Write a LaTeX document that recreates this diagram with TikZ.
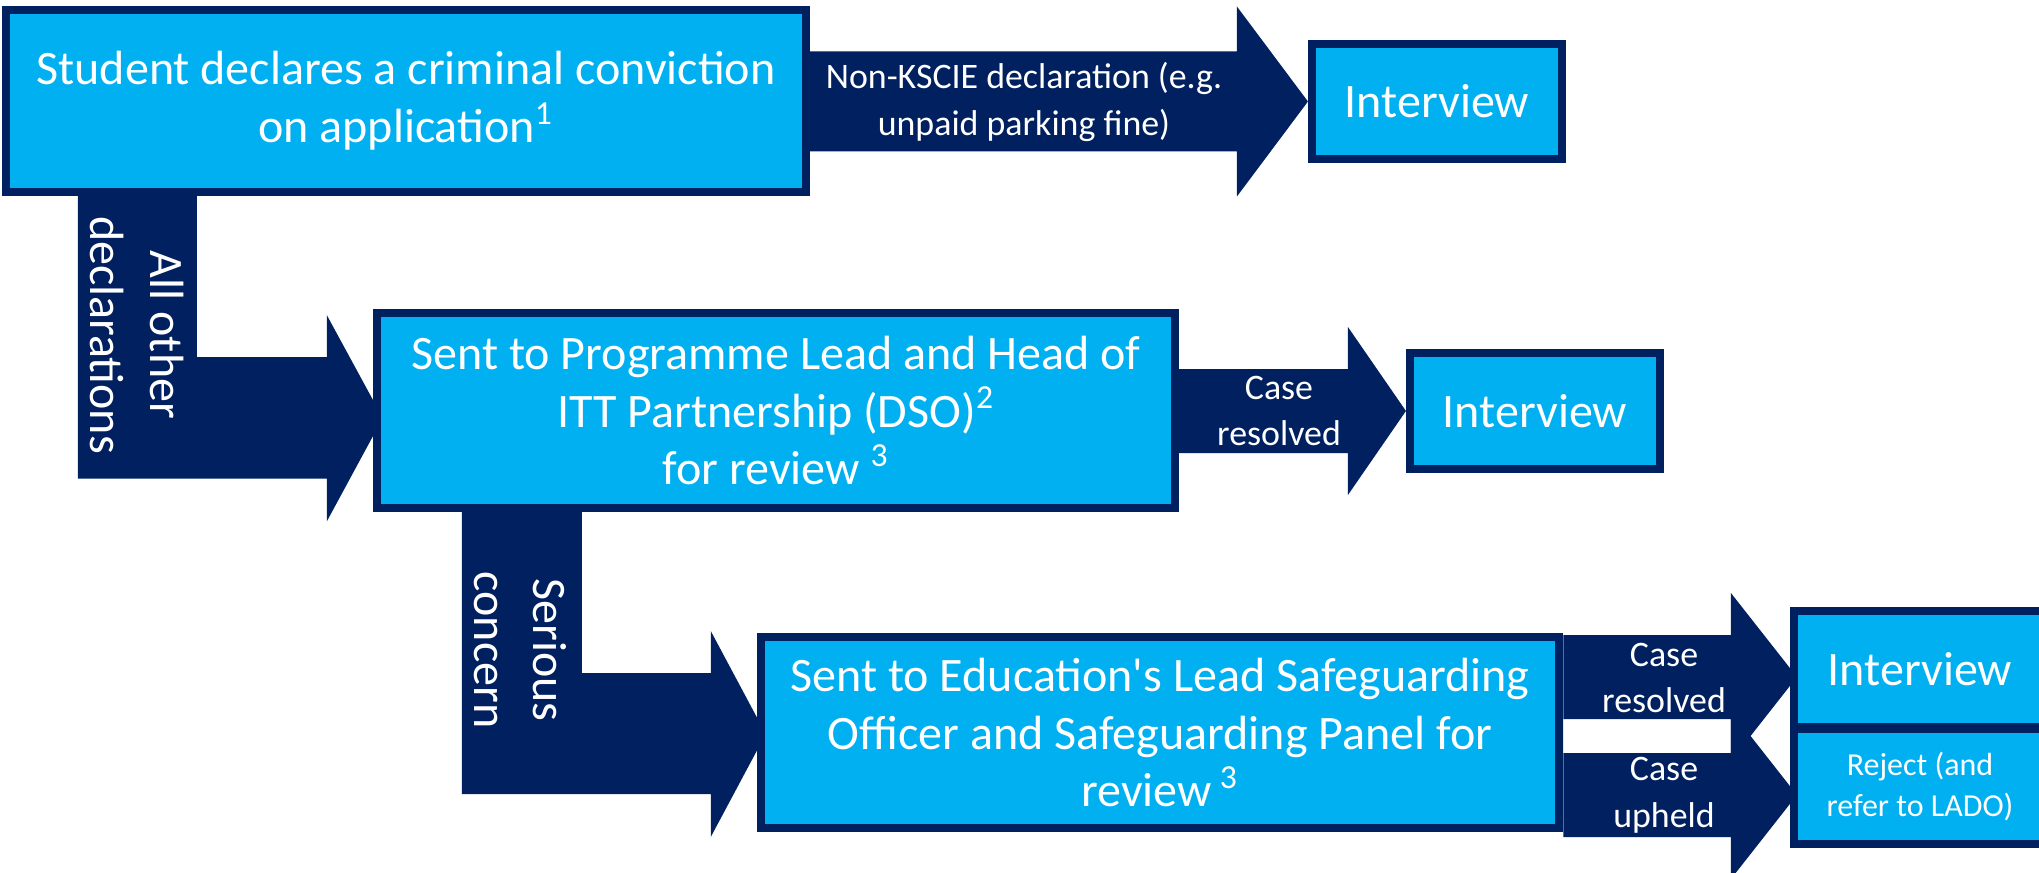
\documentclass[tikz,border=0pt]{standalone}
\usepackage{fontspec}
\setmainfont{Carlito}
\usetikzlibrary{calc,backgrounds}
\definecolor{deepnavy}{HTML}{002060}
\definecolor{boxcyan}{HTML}{00B0F0}
\tikzset{
box/.style={draw=deepnavy, fill=boxcyan, line width=2.28pt, text=white,
  align=center, inner sep=0pt, font=\fontsize{13.66}{16.4}\selectfont},
conn/.style={fill=deepnavy},
tag/.style={text=white, align=center, inner sep=0pt,
  font=\fontsize{10.2}{13.3}\selectfont}
}

\begin{document}
\begin{tikzpicture}[x=0.01cm, y=-0.01cm]
\useasboundingbox (0,0) rectangle (2039,873);
% boxes
\node[box, minimum width=8cm, minimum height=1.82cm] (start) at (406,101)
  {Student declares a criminal conviction\\on application\textsuperscript{1}};
\node[box, minimum width=2.5cm, minimum height=1.15cm] (int1) at (1437,101.5) {Interview};
\node[box, minimum width=7.98cm, minimum height=1.95cm] (dso) at (776,410.5)
  {Sent to Programme Lead and Head of\\ITT Partnership (DSO)\textsuperscript{2}\\for review \textsuperscript{3}};
\node[box, minimum width=2.5cm, minimum height=1.16cm] (int2) at (1535,411) {Interview};
\node[box, minimum width=7.98cm, minimum height=1.91cm] (panel) at (1160,732.5)
  {Sent to Education\textquotesingle s Lead Safeguarding\\Officer and Safeguarding Panel for\\review\,\textsuperscript{3}};
\node[box, minimum width=2.52cm, minimum height=1.16cm] (int3) at (1920,669) {Interview};
\node[box, minimum width=2.52cm, minimum height=1.15cm,
  font=\fontsize{9.1}{11.4}\selectfont] (reject) at (1920,786.5) {Reject (and\\refer to LADO)};

% block arrows, behind the boxes
\begin{pgfonlayer}{background}
\fill[conn] (int1.west) -- ++(-71,-95) -- ++(0,45) -| (start.center)
  |- ($(int1.west)+(-71,50)$) -- ++(0,45) -- cycle;
\fill[conn] (int2.west) -- ++(-58,-84) -- ++(0,42) -| (dso.center)
  |- ($(int2.west)+(-58,42)$) -- ++(0,42) -- cycle;
\fill[conn] ($(dso.west)+(10,7.5)$) -- ++(-56,-103) -- ++(0,42)
  -| ($(start.south west)+(195,-10)$) -- ++(-119,0)
  |- ($(dso.west)+(-46,68)$) -- ++(0,43) -- cycle;
\fill[conn] ($(panel.west)+(9,1.5)$) -- ++(-55,-103) -- ++(0,42)
  -| ($(dso.south west)+(209,-10)$) -- ++(-120,0)
  |- ($(panel.west)+(-46,61.5)$) -- ++(0,43) -- cycle;
\fill[conn] ($(int3.west)+(7,8)$) -- ++(-66,-84) -- ++(0,42) -| (panel.east)
  |- ($(int3.west)+(-59,50)$) -- ++(0,42) -- cycle;
\fill[conn] ($(reject.west)+(7,8.5)$) -- ++(-66,-84) -- ++(0,42) -| (panel.east)
  |- ($(reject.west)+(-59,50.5)$) -- ++(0,42) -- cycle;
\end{pgfonlayer}

% arrow labels
\node[tag] (nonksc) at (1024,102) {Non-KSCIE declaration (e.g.\\unpaid parking fine)};
\node[tag] (resolved1) at (1279,411) {Case\\resolved};
\node[tag] (resolved2) at (1664,678) {Case\\resolved};
\node[tag] (upheld) at (1664,795) {Case\\upheld};
\node[tag, rotate=-90, font=\fontsize{13.66}{16.8}\selectfont] (other) at (137,335)
  {All other\\declarations};
\node[tag, rotate=-90, font=\fontsize{13.66}{16.8}\selectfont] (serious) at (520,650)
  {Serious\\concern};
\end{tikzpicture}
\end{document}
